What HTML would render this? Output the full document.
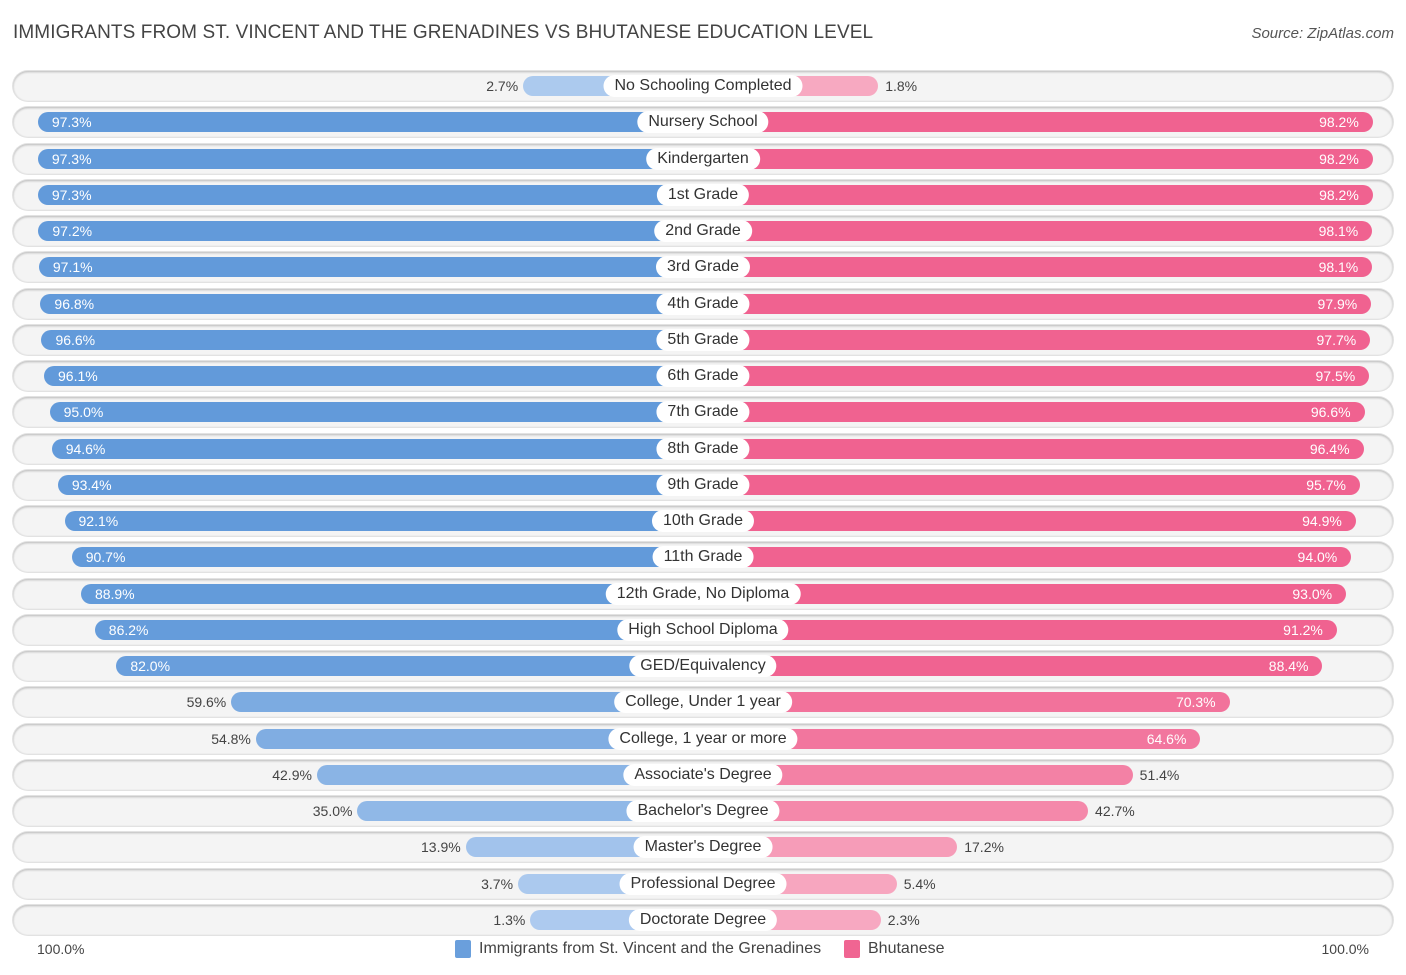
<!DOCTYPE html>
<html><head><meta charset="utf-8"><style>
body{margin:0;background:#fff;font-family:"Liberation Sans",sans-serif;}
#wrap{position:relative;width:1406px;height:975px;overflow:hidden;}
.title{position:absolute;left:13px;top:22px;font-size:19px;color:#444;letter-spacing:0.1px}
.src{position:absolute;right:12px;top:25px;font-size:15px;color:#555;font-style:italic}
.rowbg{position:absolute;left:13px;width:1380px;height:30px;border-radius:15px;background:#f4f4f4;box-shadow:0 1px 2px rgba(0,0,0,0.25) inset, 0 0 0 1px #e2e2e2;}
.bar{position:absolute;height:20px;border-radius:10px;}
.lab{position:absolute;height:22px;line-height:22px;padding:0 11px;background:#fff;border-radius:11px;font-size:16px;color:#333;transform:translateX(-50%);white-space:nowrap;}
.val{position:absolute;font-size:14px;line-height:20px;color:#444;}
.val.in{color:#fff}
.axl{position:absolute;top:941px;font-size:14px;color:#444}
.leg{position:absolute;top:940px;font-size:16px;color:#444;display:flex;align-items:center}
.sw{width:16px;height:18px;border-radius:2px;margin-right:8px}
</style></head><body>
<div id="wrap">
<div class="title">IMMIGRANTS FROM ST. VINCENT AND THE GRENADINES VS BHUTANESE EDUCATION LEVEL</div>
<div class="src">Source: ZipAtlas.com</div>
<div id="rows"></div>
<div class="axl" style="left:37px">100.0%</div>
<div class="axl" style="right:37px">100.0%</div>
<div class="leg" style="left:455px"><div class="sw" style="background:#6a9fdc"></div>Immigrants from St. Vincent and the Grenadines</div>
<div class="leg" style="left:844px"><div class="sw" style="background:#f06592"></div>Bhutanese</div>
</div>
<script>
const categories=["No Schooling Completed","Nursery School","Kindergarten","1st Grade","2nd Grade","3rd Grade","4th Grade","5th Grade","6th Grade","7th Grade","8th Grade","9th Grade","10th Grade","11th Grade","12th Grade, No Diploma","High School Diploma","GED/Equivalency","College, Under 1 year","College, 1 year or more","Associate's Degree","Bachelor's Degree","Master's Degree","Professional Degree","Doctorate Degree"];
const leftVals=[2.7,97.3,97.3,97.3,97.2,97.1,96.8,96.6,96.1,95.0,94.6,93.4,92.1,90.7,88.9,86.2,82.0,59.6,54.8,42.9,35.0,13.9,3.7,1.3];
const rightVals=[1.8,98.2,98.2,98.2,98.1,98.1,97.9,97.7,97.5,96.6,96.4,95.7,94.9,94.0,93.0,91.2,88.4,70.3,64.6,51.4,42.7,17.2,5.4,2.3];
const cx=703,y0=86,dy=36.26,base=166,scale=5.13;
function len(v){return base+scale*v;}
function mix(a,b,t){return 'rgb('+a.map((x,i)=>Math.round(x+(b[i]-x)*t)).join(',')+')';}
const bl=[174,203,239],bs=[98,154,218],pl=[247,170,194],ps=[240,98,144];
const rows=document.getElementById('rows');
categories.forEach((c,i)=>{
  const y=y0+i*dy;
  const bg=document.createElement('div');bg.className='rowbg';bg.style.top=(y-15)+'px';
  
  
  rows.appendChild(bg);
  const lv=leftVals[i],rv=rightVals[i];
  const L=len(lv),R=len(rv);
  const lb=document.createElement('div');lb.className='bar';
  lb.style.cssText+=`left:${cx-L}px;width:${L}px;top:${y-10}px;background:${mix(bl,bs,Math.min(1,lv/90))}`;
  
  
  rows.appendChild(lb);
  const rb=document.createElement('div');rb.className='bar';
  rb.style.cssText+=`left:${cx}px;width:${R}px;top:${y-10}px;background:${mix(pl,ps,Math.min(1,rv/90))}`;
  
  
  rows.appendChild(rb);
  const lt=document.createElement('div');lt.className='val';lt.textContent=lv.toFixed(1)+'%';lt.style.top=(y-10)+'px';
  if(lv>60){lt.classList.add('in');lt.style.left=(cx-L+14)+'px';}else{lt.style.right=(1406-(cx-L)+5)+'px';}
  
  
  rows.appendChild(lt);
  const rt=document.createElement('div');rt.className='val';rt.textContent=rv.toFixed(1)+'%';rt.style.top=(y-10)+'px';
  if(rv>60){rt.classList.add('in');rt.style.right=(1406-(cx+R)+14)+'px';}else{rt.style.left=(cx+R+7)+'px';}
  
  
  rows.appendChild(rt);
  const lab=document.createElement('div');lab.className='lab';lab.textContent=c;lab.style.left=cx+'px';lab.style.top=(y-11)+'px';
  
  
  rows.appendChild(lab);
});
</script>
</body></html>
